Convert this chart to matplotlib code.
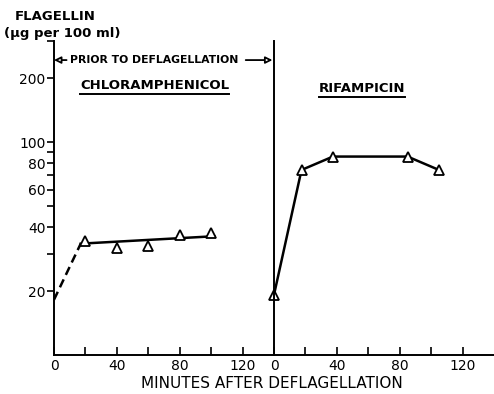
import matplotlib
matplotlib.use("Agg")
import matplotlib.pyplot as plt
from matplotlib.lines import Line2D
from matplotlib.ticker import FixedLocator, NullFormatter

# chloramphenicol: measured points, fitted line and extrapolation to time 0
chl_t = [20, 40, 60, 80, 100]
chl_flag = [34.2, 31.7, 32.4, 36.5, 37.3]
chl_fit_t = [17, 102]
chl_fit_flag = [33.4, 36.2]
chl_extra_t = [0, 17]
chl_extra_flag = [18.2, 33.4]

# rifampicin
rif_t = [0, 17.5, 37.5, 85, 105]
rif_flag = [19.2, 74.2, 85.8, 85.8, 74.2]

y_ticks = [20, 40, 60, 80, 100, 200]
y_minor = [30, 50, 70, 90, 300]
x_ticks = [0, 20, 40, 60, 80, 100, 120]
x_labels = ["0", "", "40", "", "80", "", "120"]

plt.rcParams['font.family'] = ['DejaVu Sans']
LW = 1.8

fig = plt.figure(figsize=(4.94, 3.94), dpi=100)
W, H = 494, 394
ax1 = fig.add_axes([54 / W, 39 / H, 220 / W, 314 / H])
ax2 = fig.add_axes([274 / W, 39 / H, 220 / W, 314 / H], sharey=ax1)

for ax in (ax1, ax2):
    ax.set_yscale('log')
    ax.set_ylim(10, 300)
    ax.set_xlim(0, 140)
    ax.spines['top'].set_visible(False)
    ax.spines['right'].set_visible(False)
    ax.spines['left'].set_linewidth(1.4)
    ax.spines['bottom'].set_linewidth(1.4)
    ax.set_xticks(x_ticks)
    ax.set_xticklabels(x_labels)
    ax.tick_params(axis='x', direction='in', length=6, width=1.2,
                   labelsize=10, pad=3)
    ax.patch.set_alpha(0)

ax1.yaxis.set_major_locator(FixedLocator(y_ticks))
ax1.yaxis.set_minor_locator(FixedLocator(y_minor))
ax1.set_yticklabels([str(v) for v in y_ticks])
ax1.yaxis.set_minor_formatter(NullFormatter())
ax1.tick_params(axis='y', which='both', direction='out', length=5,
                width=1.2, labelsize=10, pad=1)
ax2.tick_params(axis='y', which='both', left=False, labelleft=False)

# chloramphenicol panel
ax1.plot(chl_extra_t, chl_extra_flag, color='black', lw=LW,
         linestyle=(0, (3.5, 2)))
ax1.plot(chl_fit_t, chl_fit_flag, color='black', lw=LW)
ax1.plot(chl_t, chl_flag, linestyle='none', marker='^', ms=7,
         mfc='white', mec='black', mew=1.3)

# rifampicin panel
ax2.plot(rif_t, rif_flag, color='black', lw=LW, marker='^', ms=7,
         mfc='white', mec='black', mew=1.3, clip_on=False)

# "prior to deflagellation" bracket with open arrow heads
ax1.text(64, 244, "PRIOR TO DEFLAGELLATION", ha='center', va='center',
         fontsize=7.8, fontweight='bold')
arrow = dict(arrowstyle='-|>', fc='white', ec='black', lw=1.3,
             mutation_scale=10, shrinkA=0, shrinkB=0)
ax1.annotate("", xy=(0, 244), xytext=(8, 244), arrowprops=arrow)
ax1.annotate("", xy=(139, 244), xytext=(122, 244), arrowprops=arrow)

t1 = ax1.text(64, 186, "CHLORAMPHENICOL", ha='center', va='center',
              fontsize=9.5, fontweight='bold')
t2 = ax2.text(56, 180, "RIFAMPICIN", ha='center', va='center',
              fontsize=9.5, fontweight='bold')

fig.text(55 / W, 1 - 17 / H, "FLAGELLIN", ha='center', va='center',
         fontsize=9.5, fontweight='bold')
fig.text(62 / W, 1 - 33 / H, "(μg per 100 ml)", ha='center', va='center',
         fontsize=9.5, fontweight='bold')
fig.text(272 / W, 1 - 383 / H, "MINUTES AFTER DEFLAGELLATION",
         ha='center', va='center', fontsize=11)

# underline the drug names
fig.canvas.draw()
renderer = fig.canvas.get_renderer()
for t in (t1, t2):
    bb = t.get_window_extent(renderer)
    y = bb.y0 - 2
    fig.add_artist(Line2D([bb.x0 / W, bb.x1 / W],
                          [y / H, y / H], color='black', lw=1.4,
                          transform=fig.transFigure))

fig.savefig("out.png", dpi=100)
